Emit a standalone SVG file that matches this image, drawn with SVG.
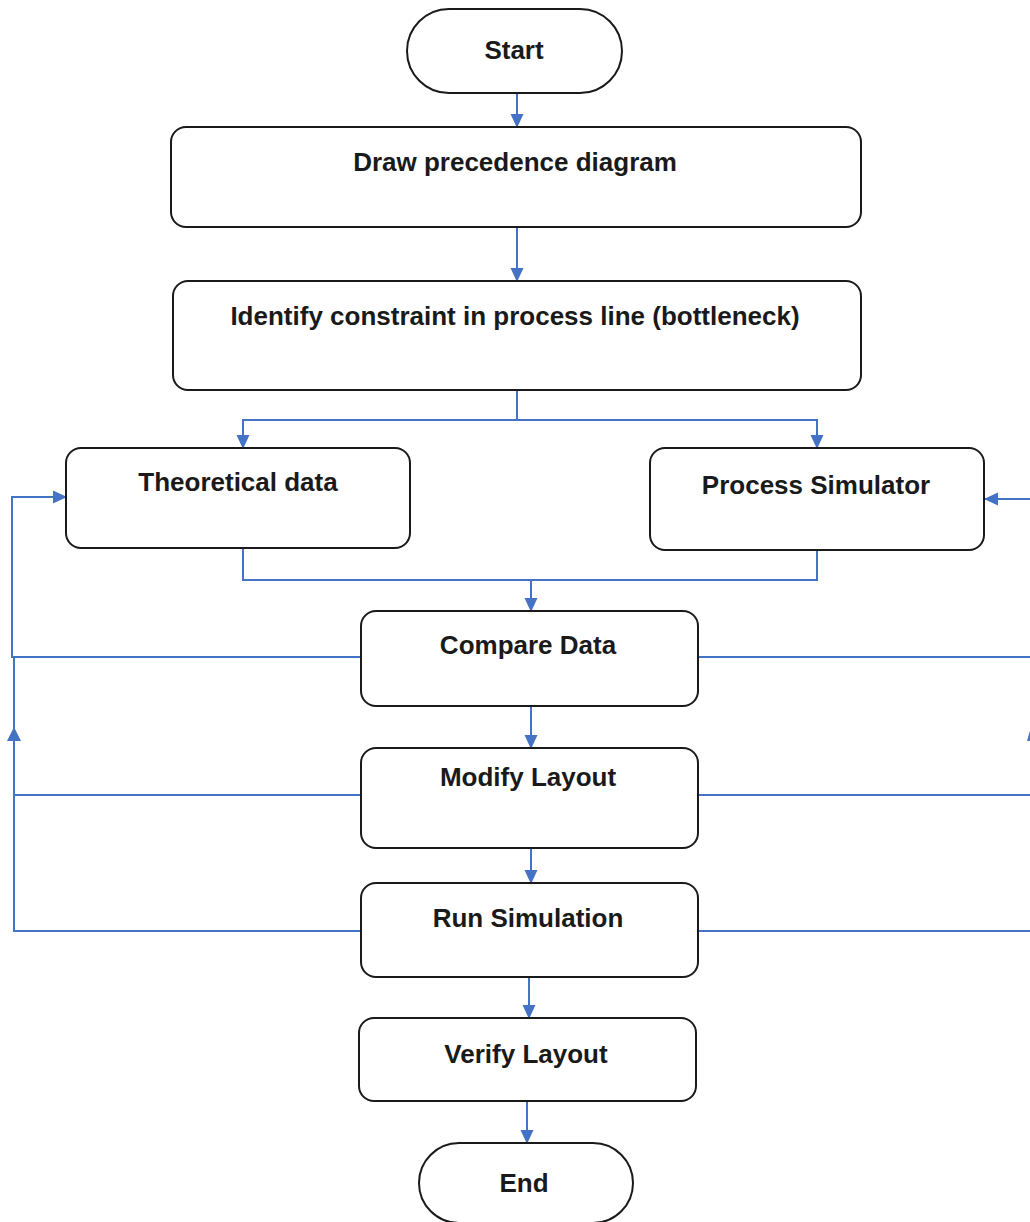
<svg xmlns="http://www.w3.org/2000/svg" width="1030" height="1222" viewBox="0 0 1030 1222">
<style>
.box{fill:#fff;stroke:#1a1a1a;stroke-width:2}
.lbl{font-family:"Liberation Sans",Arial,sans-serif;font-weight:bold;font-size:26px;fill:#1a1a1a;text-anchor:middle}
.c{fill:none;stroke:#4472c4;stroke-width:2}
.ah{fill:#4472c4}
</style>
<defs>
<marker id="ah" markerWidth="14" markerHeight="14" refX="13" refY="7" orient="auto" markerUnits="userSpaceOnUse" viewBox="0 0 14 14">
<path d="M0,0.5 L14,7 L0,13.5 z" fill="#4472c4"/>
</marker>
</defs>
<rect width="1030" height="1222" fill="#fff"/>
<g id="connectors">
<path class="c" d="M517,93 V127" marker-end="url(#ah)"/>
<path class="c" d="M517,227 V281" marker-end="url(#ah)"/>
<path class="c" d="M517,390 V420 H243 V448" marker-end="url(#ah)"/>
<path class="c" d="M517,420 H817 V448" marker-end="url(#ah)"/>
<path class="c" d="M243,548 V580 H817 V550"/>
<path class="c" d="M531,580 V611" marker-end="url(#ah)"/>
<path class="c" d="M531,706 V748" marker-end="url(#ah)"/>
<path class="c" d="M531,848 V883" marker-end="url(#ah)"/>
<path class="c" d="M529,977 V1018" marker-end="url(#ah)"/>
<path class="c" d="M527,1101 V1143" marker-end="url(#ah)"/>
<path class="c" d="M361,657 H12 V497 H66" marker-end="url(#ah)"/>
<path class="c" d="M361,931 H14 V657"/>
<path class="c" d="M361,795 H14"/>
<path class="ah" d="M14,727 L21,741 L7,741 z"/>
<path class="c" d="M698,657 H1032"/>
<path class="c" d="M698,795 H1032"/>
<path class="c" d="M698,931 H1032"/>
<path class="c" d="M1040,499 H985" marker-end="url(#ah)"/>
<path class="ah" d="M1031,727 L1027,741 L1031,741 z"/>
</g>
<g id="start"><rect class="box" x="407" y="9" width="215" height="84" rx="42"/><text class="lbl" x="514" y="59">Start</text></g>
<g id="draw"><rect class="box" x="171" y="127" width="690" height="100" rx="15"/><text class="lbl" x="515" y="171">Draw precedence diagram</text></g>
<g id="identify"><rect class="box" x="173" y="281" width="688" height="109" rx="15"/><text class="lbl" x="515" y="325">Identify constraint in process line (bottleneck)</text></g>
<g id="theoretical"><rect class="box" x="66" y="448" width="344" height="100" rx="15"/><text class="lbl" x="238" y="491">Theoretical data</text></g>
<g id="simulator"><rect class="box" x="650" y="448" width="334" height="102" rx="15"/><text class="lbl" x="816" y="494">Process Simulator</text></g>
<g id="compare"><rect class="box" x="361" y="611" width="337" height="95" rx="15"/><text class="lbl" x="528" y="654">Compare Data</text></g>
<g id="modify"><rect class="box" x="361" y="748" width="337" height="100" rx="15"/><text class="lbl" x="528" y="786">Modify Layout</text></g>
<g id="run"><rect class="box" x="361" y="883" width="337" height="94" rx="15"/><text class="lbl" x="528" y="927">Run Simulation</text></g>
<g id="verify"><rect class="box" x="359" y="1018" width="337" height="83" rx="15"/><text class="lbl" x="526" y="1063">Verify Layout</text></g>
<g id="end"><rect class="box" x="419" y="1143" width="214" height="80" rx="40"/><text class="lbl" x="524" y="1192">End</text></g>
</svg>
